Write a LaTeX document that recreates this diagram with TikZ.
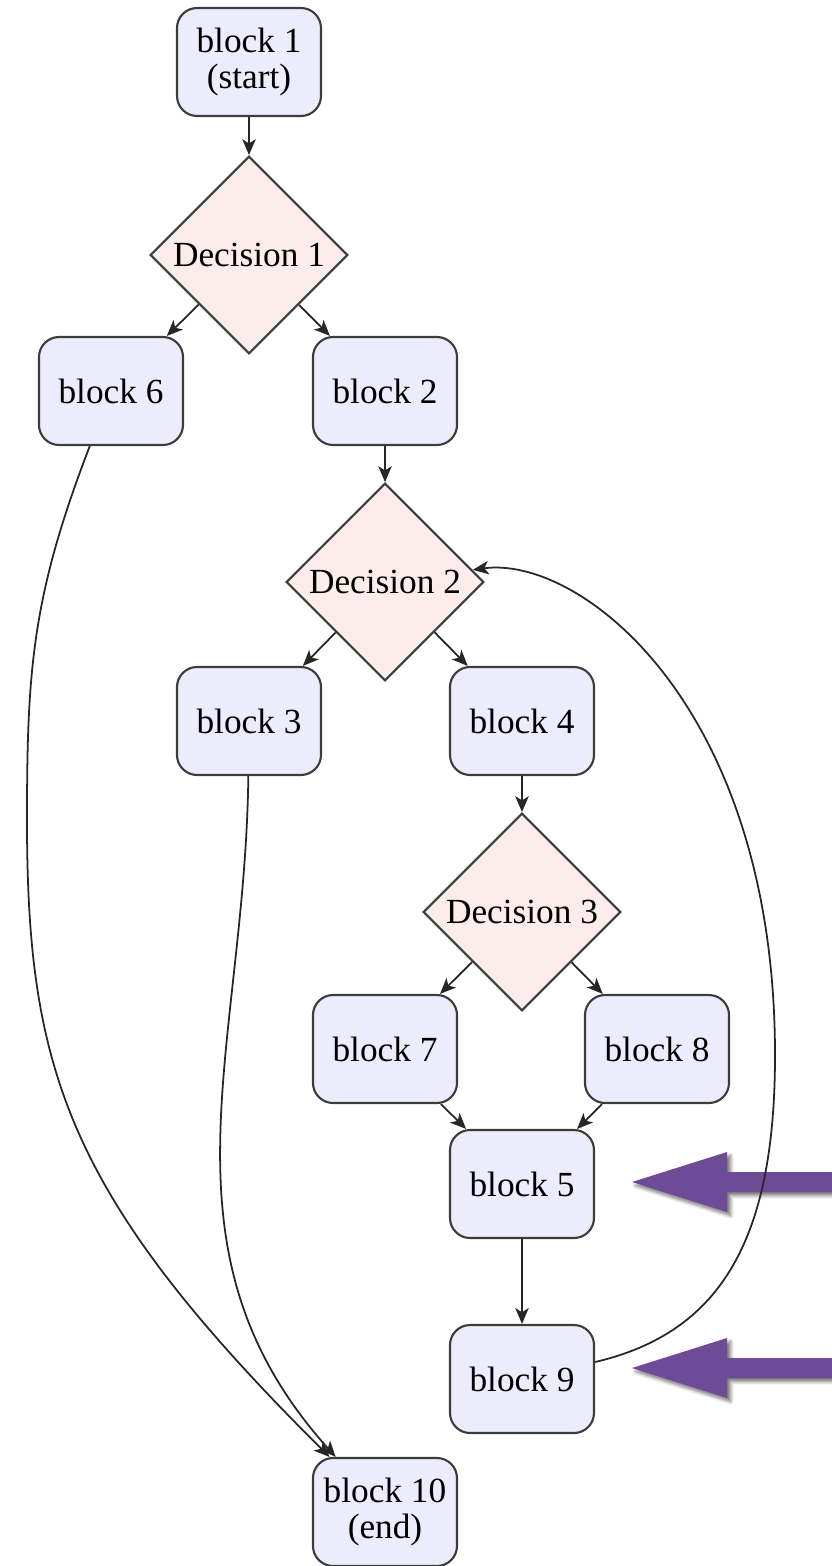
\documentclass[tikz,border=0pt]{standalone}
\usepackage{fontspec}
\setmainfont{Liberation Serif}
\usetikzlibrary{shapes.geometric,arrows.meta,shadows.blur}
\definecolor{blockfill}{RGB}{236,236,252}
\definecolor{decfill}{RGB}{252,236,234}
\definecolor{edgegray}{RGB}{60,60,60}
\definecolor{pointerpurple}{RGB}{110,75,150}
\begin{document}
\begin{tikzpicture}[x=0.2833pt,y=-0.2833pt,
  blockbox/.style={draw=edgegray, line width=0.6pt, fill=blockfill,
    rounded corners=5.7pt, minimum width=40.8pt, minimum height=30.6pt,
    inner sep=0pt, align=center, font=\fontsize{10}{10}\selectfont},
  decision/.style={diamond, aspect=1, draw=edgegray, line width=0.6pt,
    fill=decfill, minimum width=56pt, minimum height=56pt, inner sep=0pt,
    font=\fontsize{10}{10}\selectfont},
  conn/.style={draw=black!85, line width=0.5pt,
    -{Stealth[length=4.5pt,width=3.8pt,inset=1.2pt]}},
  bigpointer/.style={fill=pointerpurple,
    blur shadow={shadow xshift=1pt, shadow yshift=-1pt,
      shadow blur radius=1pt, shadow blur steps=6, shadow opacity=55}}
]
\useasboundingbox (0,0) rectangle (831,1566);

% flowchart nodes
\node[blockbox] (block1)  at (249,62)   {block 1\\(start)};
\node[decision] (dec1)    at (249,255)  {Decision 1};
\node[blockbox] (block6)  at (111,391)  {block 6};
\node[blockbox] (block2)  at (385,391)  {block 2};
\node[decision] (dec2)    at (385,582)  {Decision 2};
\node[blockbox] (block3)  at (249,721)  {block 3};
\node[blockbox] (block4)  at (522,721)  {block 4};
\node[decision] (dec3)    at (522,912)  {Decision 3};
\node[blockbox] (block7)  at (385,1049) {block 7};
\node[blockbox] (block8)  at (657,1049) {block 8};
\node[blockbox] (block5)  at (522,1184) {block 5};
\node[blockbox] (block9)  at (522,1379) {block 9};
\node[blockbox] (block10) at (385,1512) {block 10\\(end)};

% highlight pointers
\fill[bigpointer] (632,1182) -- (727,1152) -- (727,1172) -- (845,1172)
  -- (845,1192) -- (727,1192) -- (727,1212) -- cycle;
\fill[bigpointer] (632,1368) -- (727,1338) -- (727,1358) -- (845,1358)
  -- (845,1378) -- (727,1378) -- (727,1398) -- cycle;

% straight connectors
\draw[conn] (block1) -- (dec1);
\draw[conn] (dec1) -- (block6);
\draw[conn] (dec1) -- (block2);
\draw[conn] (block2) -- (dec2);
\draw[conn] (dec2) -- (block3);
\draw[conn] (dec2) -- (block4);
\draw[conn] (block4) -- (dec3);
\draw[conn] (dec3) -- (block7);
\draw[conn] (dec3) -- (block8);
\draw[conn] (block7) -- (block5);
\draw[conn] (block8) -- (block5);
\draw[conn] (block5) -- (block9);

% curved connectors
\draw[conn] (block6) .. controls (32,596) and (27,670) .. (27,820)
  .. controls (27,1070) and (67,1196) .. (block10);
\draw[conn] (block3) .. controls (245,1050) and (150,1250) .. (block10);
\draw[conn] (block9) .. controls (724,1332) and (775,1235) .. (775,1055)
  .. controls (775,705) and (580,555) .. (dec2);
\end{tikzpicture}
\end{document}
